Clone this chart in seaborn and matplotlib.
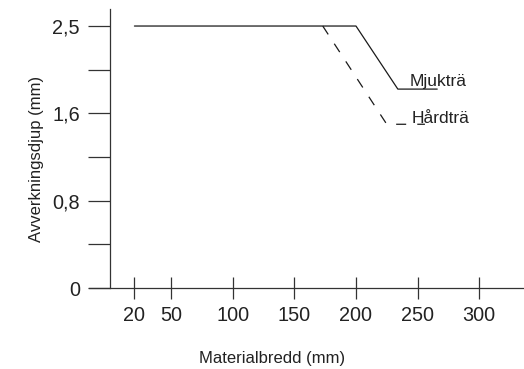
import numpy as np
import pandas as pd
import matplotlib
matplotlib.use("Agg")
import matplotlib.pyplot as plt
import seaborn as sns

# ---- data ----
mjuk_x = [20, 200, 234, 266]
mjuk_y = [2.5, 2.5, 1.85, 1.85]
hard_x = [173, 225, 256]
hard_y = [2.5, 1.5, 1.5]
xticks = [20, 50, 100, 150, 200, 250, 300]
yticks = [0, 0.8, 1.6, 2.5]
ytick_labels = ["0", "0,8", "1,6", "2,5"]
yminor = [0.4, 1.2, 2.05]
series_labels = ["Mjukträ", "Hårdträ"]

sns.set_theme(style="white")
plt.rcParams["font.family"] = ["Liberation Sans", "DejaVu Sans"]
plt.rcParams["lines.scale_dashes"] = False

INK = "#222222"

# equally spaced y ticks although values are not linear
knots_v = [-1.0] + yticks + [3.5]
knots_p = [-2.5, 0, 2, 4, 6, 6 + 2 / 0.9]

def fwd(v):
    return np.interp(v, knots_v, knots_p)

def inv(p):
    return np.interp(p, knots_p, knots_v)

fig = plt.figure(figsize=(5.24, 3.69), dpi=100)
ax = fig.add_axes([89 / 524, (369 - 288) / 369, 435 / 524, (288 - 9) / 369])
ax.set_yscale("function", functions=(fwd, inv))

df_m = pd.DataFrame({"x": mjuk_x, "y": mjuk_y})
df_h = pd.DataFrame({"x": hard_x, "y": hard_y})
sns.lineplot(data=df_m, x="x", y="y", ax=ax, color="#1a1a1a", lw=0.9,
             sort=False, estimator=None, legend=False)
sns.lineplot(data=df_h, x="x", y="y", ax=ax, color="#1a1a1a", lw=0.9,
             sort=False, estimator=None, legend=False,
             linestyle=(0, (7.2, 8.0)))

ax.set_xlim(-16.9, 336.5)
ax.set_ylim(0, float(inv(6.39)))

for s in ["top", "right"]:
    ax.spines[s].set_visible(False)
ax.spines["left"].set_position(("data", 0))
for s in ["left", "bottom"]:
    ax.spines[s].set_color("#333333")
    ax.spines[s].set_linewidth(0.9)

ax.set_xticks(xticks)
ax.set_xticklabels([str(v) for v in xticks])
ax.set_yticks(yticks)
ax.set_yticklabels(ytick_labels)
ax.set_yticks(yminor, minor=True)

ax.tick_params(axis="x", which="major", direction="inout", length=16.5, width=0.9,
               color="#333333", labelsize=14.3, labelcolor=INK, pad=4.5, bottom=True)
ax.tick_params(axis="y", which="both", direction="out", length=15.8, width=0.9,
               color="#333333", labelsize=14.3, labelcolor=INK, pad=5.8, left=True)
ax.tick_params(axis="x", which="minor", bottom=False)

ax.set_xlabel("Materialbredd (mm)", fontsize=12, color=INK)
ax.set_ylabel("Avverkningsdjup (mm)", fontsize=12, color=INK)
ax.xaxis.set_label_coords(0.421, -0.226)
ax.yaxis.set_label_coords(-0.103, 0.462)

ax.text(243.8, 1.882, series_labels[0], fontsize=12.5, color=INK, ha="left", va="baseline")
ax.text(245.6, 1.516, series_labels[1], fontsize=12.5, color=INK, ha="left", va="baseline")

ax.grid(False)
fig.savefig("out.png", dpi=100)
